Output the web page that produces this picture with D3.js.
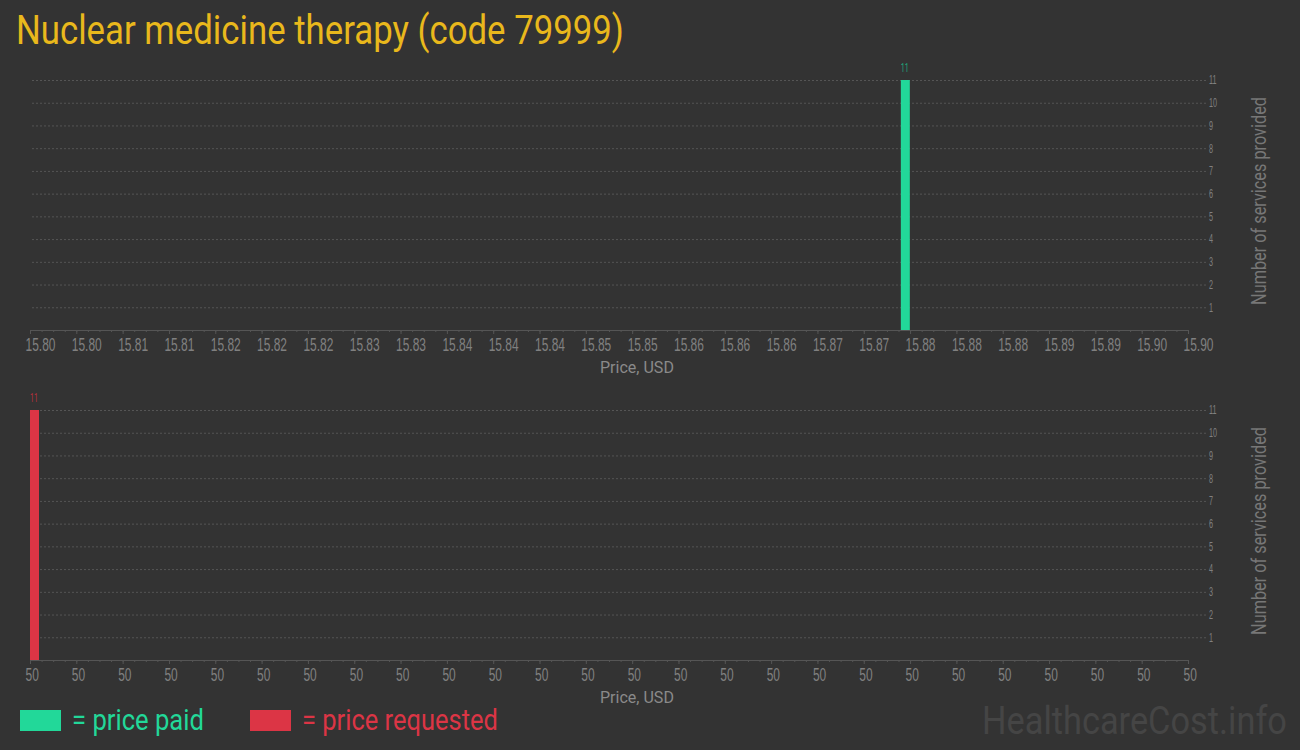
<!DOCTYPE html>
<html>
<head>
<meta charset="utf-8">
<script src="https://cdn.jsdelivr.net/npm/d3@7"></script>
<style>
  html, body { margin: 0; padding: 0; background: #333333; }
  svg { display: block; font-family: Roboto, "Noto Sans", sans-serif; }
</style>
</head>
<body>
<div id="viz"></div>
<script>
// chart values
const paidPrices = [15.8752];
const paidCounts = [11];
const requestedPrices = [50];
const requestedCounts = [11];
const paidDomain = [15.80, 15.90];
const requestedDomain = [50, 50.1];
const countTicks = [1, 2, 3, 4, 5, 6, 7, 8, 9, 10, 11];
const titleText = 'Nuclear medicine therapy (code 79999)';
const legendLabels = ['= price paid', '= price requested'];

const width = 1300, height = 750;
const green = '#22d899', red = '#dc3545';

const svg = d3.select('#viz')
    .append('svg')
    .attr('width', width)
    .attr('height', height)
    .style('background', '#333333');

// narrow the glyphs so Roboto looks like the condensed face
function squeeze(sel, k) {
    sel.each(function() {
        const t = d3.select(this);
        const x = +t.attr('x') || 0;
        t.attr('x', x / k).attr('transform', `scale(${k},1)`);
    });
}

// squeeze a text until it is w pixels wide
function fit(sel, w) {
    sel.each(function() {
        const k = w / this.getComputedTextLength();
        d3.select(this).call(squeeze, k);
    });
}

svg.append('text')
    .attr('x', 16)
    .attr('y', 44)
    .attr('fill', '#e9b81c')
    .style('font-size', '40px')
    .text(titleText)
    .call(fit, 608);

function drawPanel(opts) {
    const { prices, counts, domain, fmt, top, bottom, color, labelColor } = opts;

    const x = d3.scaleLinear().domain(domain).range([30, 1188]);
    const y = d3.scaleLinear().domain([0, 11]).range([bottom, top]);
    const g = svg.append('g');

    // dashed grid
    g.selectAll('line.grid').data(countTicks)
        .enter()
        .append('line')
        .attr('x1', 32)
        .attr('x2', 1206)
        .attr('y1', d => y(d) + 0.5)
        .attr('y2', d => y(d) + 0.5)
        .attr('stroke', '#555')
        .attr('stroke-dasharray', '2,2');

    // right count axis
    const yAxis = g.append('g')
        .attr('transform', `translate(1205,0)`)
        .call(d3.axisRight(y).tickValues(countTicks).tickSize(0).tickPadding(4));
    yAxis.select('.domain').remove();
    yAxis.selectAll('text')
        .attr('fill', '#808080')
        .style('font-size', '12px')
        .call(squeeze, 0.6);

    // minor ticks
    const minor = d3.range(101).map(i => domain[0] + i * (domain[1] - domain[0]) / 100);
    g.append('g')
        .attr('transform', `translate(0,${bottom})`)
        .call(d3.axisBottom(x).tickValues(minor).tickSize(2).tickFormat(''))
        .call(a => a.select('.domain').remove())
        .selectAll('line').attr('stroke', '#555');

    // major ticks
    const major = d3.range(26).map(i => domain[0] + i * (domain[1] - domain[0]) / 25);
    const xAxis = g.append('g')
        .attr('transform', `translate(0,${bottom})`)
        .call(d3.axisBottom(x).tickValues(major).tickSize(4).tickPadding(4).tickFormat(fmt));
    xAxis.select('.domain').attr('stroke', '#555');
    xAxis.selectAll('line').attr('stroke', '#555');
    xAxis.selectAll('text')
        .attr('fill', '#808080')
        .attr('text-anchor', 'start')
        .attr('x', -5)
        .style('font-size', '19px')
        .call(squeeze, 0.63);

    // bars
    g.selectAll('rect.bar').data(prices)
        .enter()
        .append('rect')
        .attr('x', d => x(d))
        .attr('y', (d, i) => y(counts[i]))
        .attr('width', 9)
        .attr('height', (d, i) => bottom - y(counts[i]))
        .attr('fill', color);

    g.selectAll('text.val').data(prices)
        .enter()
        .append('text')
        .attr('x', d => x(d) + 4)
        .attr('y', (d, i) => y(counts[i]) - 8)
        .attr('text-anchor', 'middle')
        .attr('fill', labelColor)
        .style('font-size', '13px')
        .text((d, i) => counts[i])
        .call(squeeze, 0.55);

    // axis titles
    g.append('text')
        .attr('x', 600)
        .attr('y', bottom + 43)
        .attr('fill', '#8a8a8a')
        .style('font-size', '17px')
        .text('Price, USD')
        .call(fit, 74);

    g.append('g')
        .attr('transform', `translate(1266,${(top + bottom) / 2 - 4}) rotate(-90)`)
        .append('text')
        .attr('text-anchor', 'middle')
        .attr('fill', '#777')
        .style('font-size', '20px')
        .text('Number of services provided')
        .call(fit, 208);
}

drawPanel({
    prices: paidPrices, counts: paidCounts, domain: paidDomain,
    fmt: d3.format('.2f'), top: 80, bottom: 330,
    color: green, labelColor: '#1fa57a'
});

drawPanel({
    prices: requestedPrices, counts: requestedCounts, domain: requestedDomain,
    fmt: d3.format('.0f'), top: 410, bottom: 660,
    color: red, labelColor: '#b3303c'
});

// legend
const legend = svg.append('g');
const legendX = [20, 250], legendTextX = [72, 302], legendLen = [132, 196];
[green, red].forEach((c, i) => {
    legend.append('rect')
        .attr('x', legendX[i])
        .attr('y', 710)
        .attr('width', 41)
        .attr('height', 21)
        .attr('fill', c);
    legend.append('text')
        .attr('x', legendTextX[i])
        .attr('y', 730)
        .attr('fill', c)
        .style('font-size', '30px')
        .text(legendLabels[i])
        .call(fit, legendLen[i]);
});

svg.append('text')
    .attr('x', 982)
    .attr('y', 734)
    .attr('fill', '#454545')
    .style('font-size', '39px')
    .text('HealthcareCost.info')
    .call(fit, 305);
</script>
</body>
</html>
